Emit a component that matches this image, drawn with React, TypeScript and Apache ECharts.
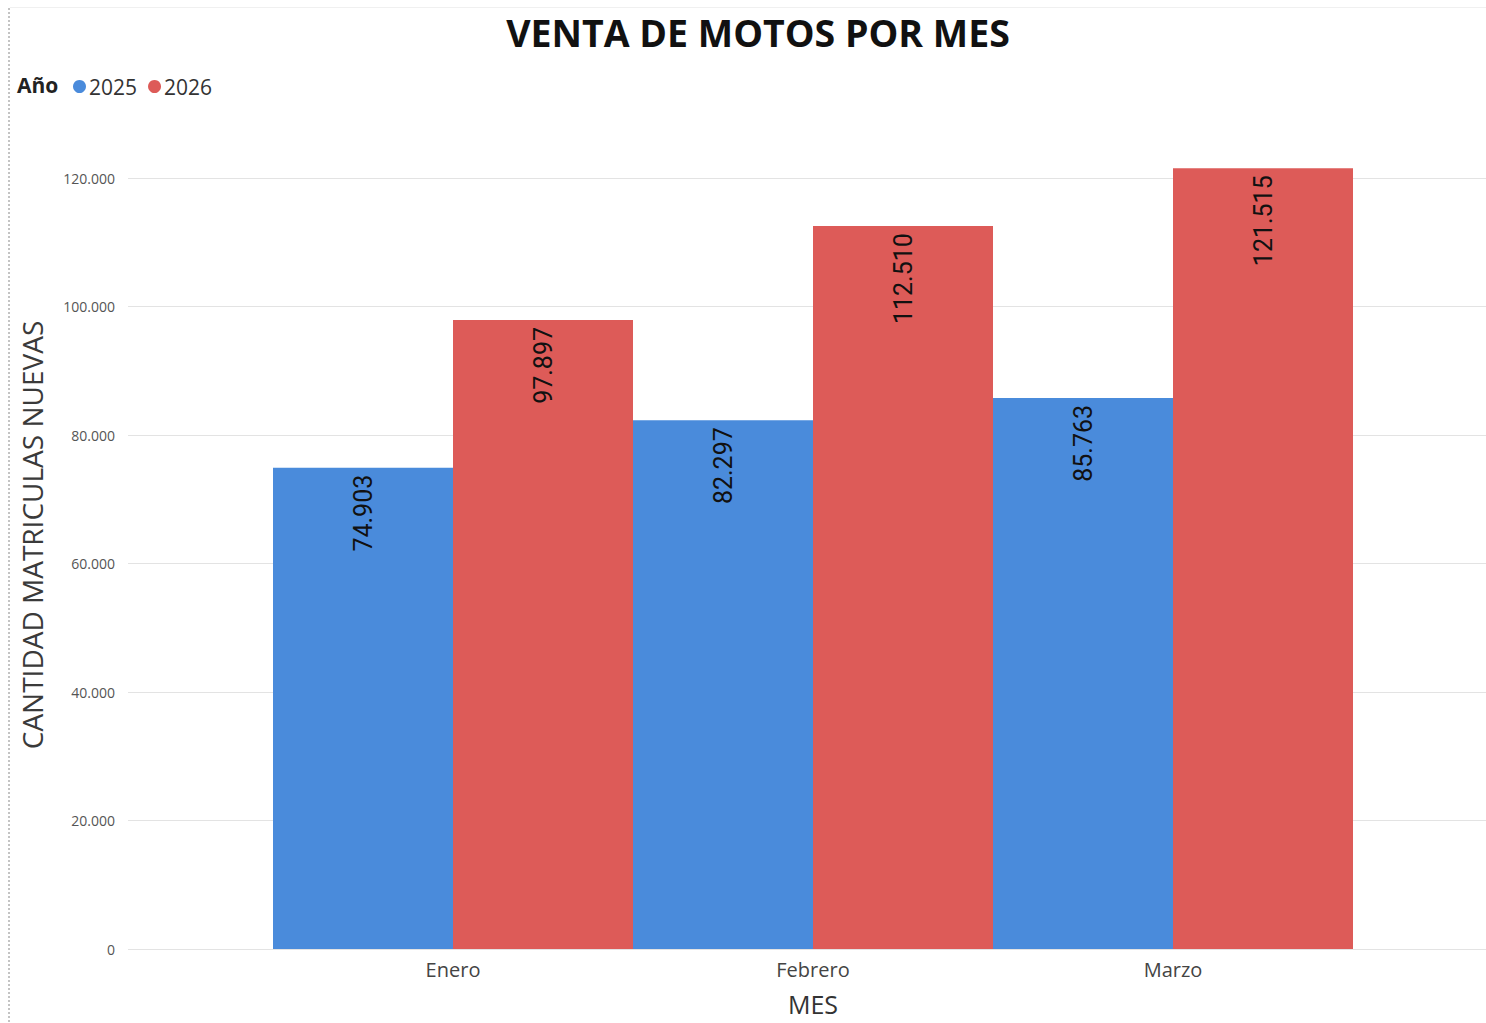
import React, { useEffect, useRef } from "react";
import * as echarts from "echarts";

const categories = ["Enero", "Febrero", "Marzo"];
const seriesNames = ["2025", "2026"];
const values2025 = [74903, 82297, 85763];
const values2026 = [97897, 112510, 121515];
const yTicks = [0, 20000, 40000, 60000, 80000, 100000, 120000];

const fmt = (v: number) => {
  const s = Math.round(v).toString();
  return s.replace(/\B(?=(\d{3})+(?!\d))/g, ".");
};

export default function App() {
  const ref = useRef<HTMLDivElement>(null);
  useEffect(() => {
    if (!ref.current) return;
    const chart = echarts.init(ref.current, undefined, { renderer: "svg" });
    const labelCfg = {
      show: true,
      position: "insideTop",
      rotate: 90,
      align: "right",
      verticalAlign: "middle",
      distance: 7,
      color: "#111",
      fontSize: 25,
      fontFamily: "Roboto",
      formatter: (p: any) => fmt(p.value),
    };
    chart.setOption({
      animation: false,
      backgroundColor: "#ffffff",
      title: {
        text: "VENTA DE MOTOS POR MES",
        left: 753,
        textAlign: "center",
        top: 8,
        textStyle: { fontFamily: "Open Sans", fontWeight: "bold", fontSize: 37.5, color: "#111" },
      },
      legend: {
        left: 68,
        top: 71,
        icon: "circle",
        itemWidth: 13,
        itemHeight: 13,
        itemGap: 11,
        textStyle: { fontFamily: "Open Sans", fontSize: 21, color: "#333", padding: [0, 0, 0, -2] },
        data: seriesNames,
      },
      graphic: [
        {
          type: "text",
          left: 17,
          top: 74,
          style: { text: "Año", fontFamily: "Open Sans", fontWeight: "bold", fontSize: 21, fill: "#222" },
        },
        {
          type: "text",
          x: 32,
          y: 535,
          rotation: Math.PI / 2,
          style: {
            text: "CANTIDAD MATRICULAS NUEVAS",
            fontFamily: "Open Sans",
            fontSize: 28,
            fill: "#3a3a3a",
            align: "center",
            verticalAlign: "middle",
          },
        },
        {
          type: "line",
          shape: { x1: 9, y1: 8, x2: 9, y2: 1023 },
          style: { stroke: "#888", lineWidth: 1, lineDash: [2, 2] },
        },
        {
          type: "line",
          shape: { x1: 10, y1: 7.5, x2: 1486, y2: 7.5 },
          style: { stroke: "#f0f0f0", lineWidth: 1 },
        },
      ],
      color: ["#4A8BDB", "#DD5B58"],
      grid: [
        { left: 128, right: 0, top: 178, bottom: 74, outerBoundsMode: "none", containLabel: false },
        { left: 273, right: 133, top: 178, bottom: 74, outerBoundsMode: "none", containLabel: false },
      ],
      xAxis: [
        { type: "value", gridIndex: 0, show: false, min: 0, max: 1 },
        {
          type: "category",
          gridIndex: 1,
          data: categories,
          axisLine: { show: false },
          axisTick: { show: false },
          axisLabel: { fontFamily: "Open Sans", fontSize: 20, color: "#444", margin: 10 },
          name: "MES",
          nameLocation: "middle",
          nameGap: 55,
          nameTextStyle: {
            fontFamily: "Open Sans",
            fontSize: 25,
            lineHeight: 24,
            color: "#333",
            verticalAlign: "middle",
          },
        },
      ],
      yAxis: [
        {
          type: "value",
          gridIndex: 0,
          min: yTicks[0],
          max: yTicks[yTicks.length - 1],
          interval: 20000,
          axisLine: { show: false },
          axisTick: { show: false },
          splitLine: { lineStyle: { color: "#e3e3e3", width: 1 } },
          axisLabel: {
            fontFamily: "Open Sans",
            fontSize: 14,
            color: "#555",
            margin: 13,
            formatter: (v: number) => fmt(v),
          },
        },
        {
          type: "value",
          gridIndex: 1,
          min: yTicks[0],
          max: yTicks[yTicks.length - 1],
          interval: 20000,
          show: false,
          splitLine: { show: false },
        },
      ],
      series: [
        {
          name: seriesNames[0],
          type: "bar",
          xAxisIndex: 1,
          yAxisIndex: 1,
          data: values2025,
          barGap: "0%",
          barCategoryGap: "0%",
          clip: false,
          label: labelCfg,
        },
        {
          name: seriesNames[1],
          type: "bar",
          xAxisIndex: 1,
          yAxisIndex: 1,
          data: values2026,
          barGap: "0%",
          barCategoryGap: "0%",
          clip: false,
          label: labelCfg,
        },
      ],
    });
    return () => chart.dispose();
  }, []);
  return (
    <div
      ref={ref}
      style={{ position: "fixed", left: 0, top: 0, width: 1486, height: 1023, background: "#fff" }}
    />
  );
}
